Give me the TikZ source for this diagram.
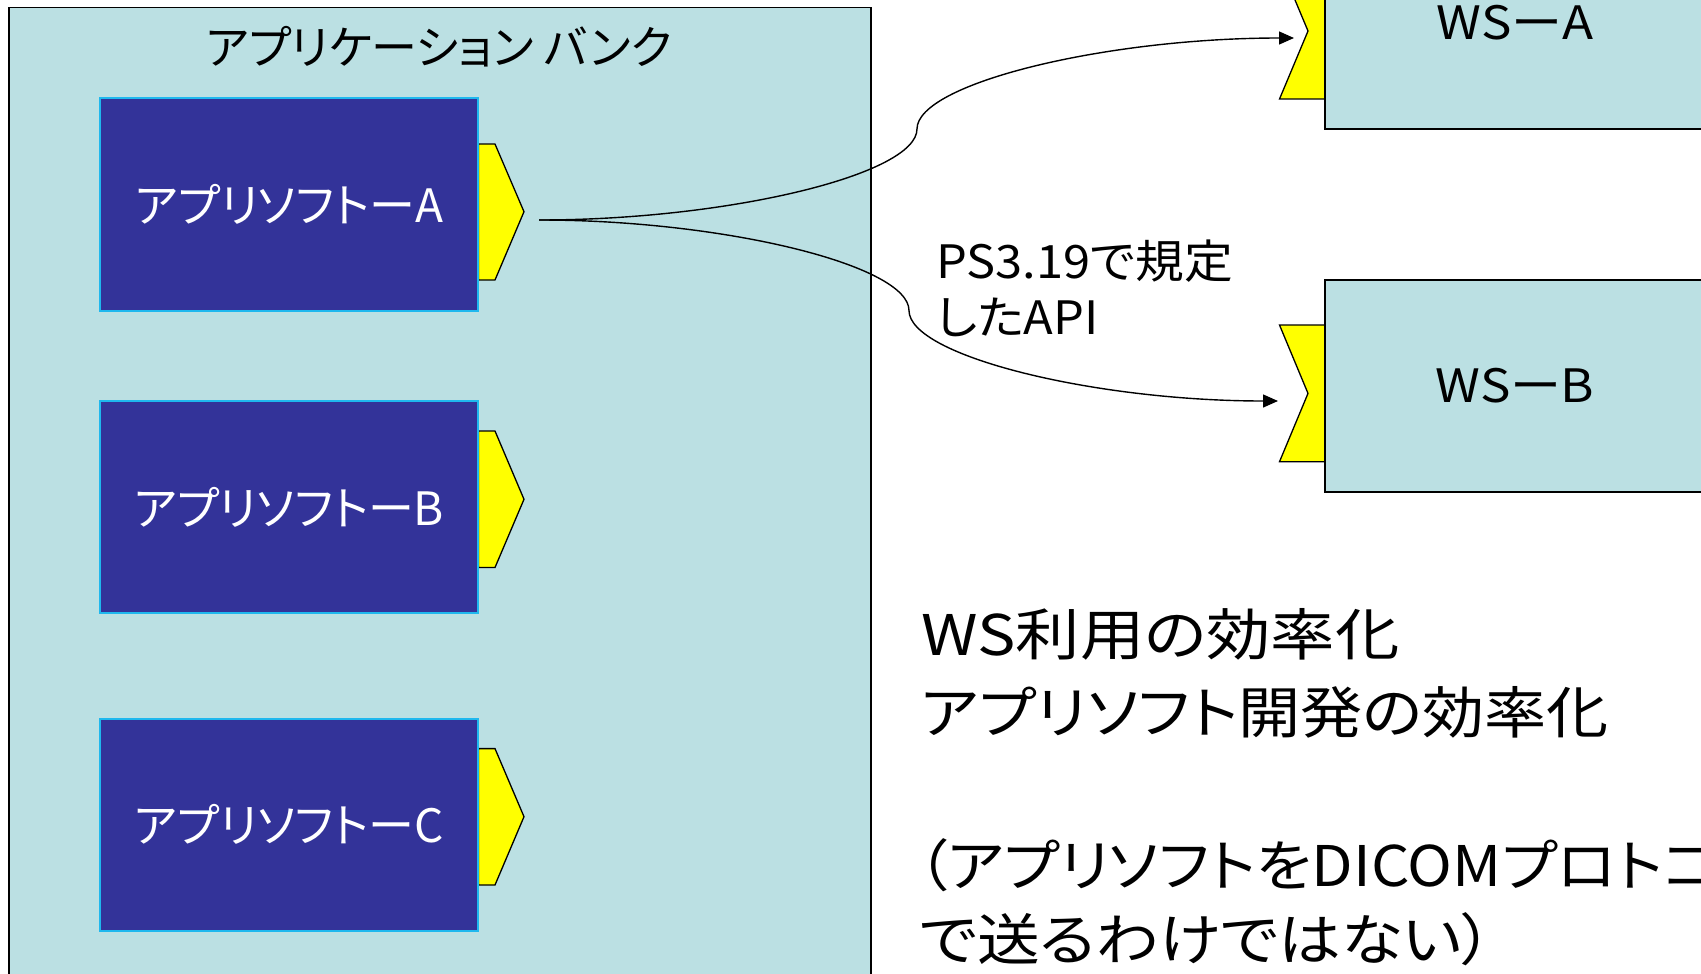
\documentclass[tikz,border=0pt]{standalone}
\usepackage{fontspec}
\setmainfont{Noto Sans CJK JP}[RawFeature=+palt]
\usetikzlibrary{arrows.meta}
\definecolor{bankfill}{HTML}{BBE0E3}
\definecolor{appfill}{HTML}{333399}
\definecolor{appline}{HTML}{1FB8EE}
\definecolor{tabfill}{HTML}{FFFF00}
\newcommand{\hsc}[2]{\scalebox{#1}[1]{#2}}
\begin{document}
\begin{tikzpicture}[x=1pt,y=-1pt,
  bank/.style={draw=black, line width=1.5pt, fill=bankfill, minimum width=862pt, minimum height=1000pt, inner sep=0pt},
  appbox/.style={draw=appline, line width=2pt, fill=appfill, minimum width=378.6pt, minimum height=212.5pt, inner sep=0pt, text=white, font=\fontsize{46}{50}\selectfont},
  wsbox/.style={draw=black, line width=1.5pt, fill=bankfill, minimum width=380pt, minimum height=212pt, inner sep=0pt, font=\fontsize{46}{50}\selectfont},
  tabshape/.style={draw=black, line width=1.3pt, fill=tabfill, line join=miter},
  conn/.style={draw=black, line width=1.4pt, -{Triangle[length=15pt,width=13pt]}},
  titletext/.style={inner sep=0pt, font=\fontsize{46}{50}\selectfont},
  labeltext/.style={inner sep=0pt, anchor=west, font=\fontsize{46}{50}\selectfont},
  bigtext/.style={inner sep=0pt, anchor=west, font=\fontsize{56}{60}\selectfont}
]
\clip (0,0) rectangle (1701,974);
\fill[white] (0,0) rectangle (1701,974);

% application bank
\node[bank] (bank) at (439.85,507.6) {};
\node[titletext] (title) at (439,47) {アプリケーション バンク};

% tabs of applications
\draw[tabshape] (478.4,144) -- (495,144) -- (524,211.7) -- (495,280) -- (478.4,280) -- cycle;
\draw[tabshape] (478.4,431) -- (495,431) -- (524,499.3) -- (495,567.5) -- (478.4,567.5) -- cycle;
\draw[tabshape] (478.4,748.6) -- (495,748.6) -- (524,816.7) -- (495,885) -- (478.4,885) -- cycle;

\node[appbox] (appA) at (289.1,204.75) {アプリソフトーA};
\node[appbox] (appB) at (289.1,507) {アプリソフトーB};
\node[appbox] (appC) at (289.1,824.75) {アプリソフトーC};

% workstation tabs
\draw[tabshape] (1325,-37) -- (1279.5,-37) -- (1308,31) -- (1279.5,99) -- (1325,99) -- cycle;
\draw[tabshape] (1325,325) -- (1279.5,325) -- (1308,393.4) -- (1279.5,461.7) -- (1325,461.7) -- cycle;

\node[wsbox] (wsA) at (1515,23) {\hsc{1.11}{WSーA}};
\node[wsbox] (wsB) at (1515,385.8) {\hsc{1.11}{WSーB}};

% connectors
\coordinate (src) at (539,220);
\coordinate (dstA) at (1294,38);
\coordinate (dstB) at (1278,401);
\draw[conn] (src) .. controls (728,220) and (917,174.5) .. (917,129)
                 .. controls (917,83.5) and (1105.5,38) .. (dstA);
\draw[conn] (src) .. controls (724,220) and (909,265.25) .. (909,310.5)
                 .. controls (909,355.75) and (1093.5,401) .. (dstB);

\node[labeltext] (api1) at (936,261) {\hsc{1.06}{PS3.19で規定}};
\node[labeltext] (api2) at (936,317) {\hsc{1.06}{したAPI}};

\node[bigtext] (l1) at (921,634) {\hsc{1.15}{WS利用の効率化}};
\node[bigtext] (l2) at (921,712) {\hsc{1.11}{アプリソフト開発の効率化}};
\node[bigtext] (l3) at (917,865) {\hsc{1.08}{（アプリソフトをDICOMプロトコル}};
\node[bigtext] (l4) at (919,939) {\hsc{1.12}{で送るわけではない）}};
\end{tikzpicture}
\end{document}
